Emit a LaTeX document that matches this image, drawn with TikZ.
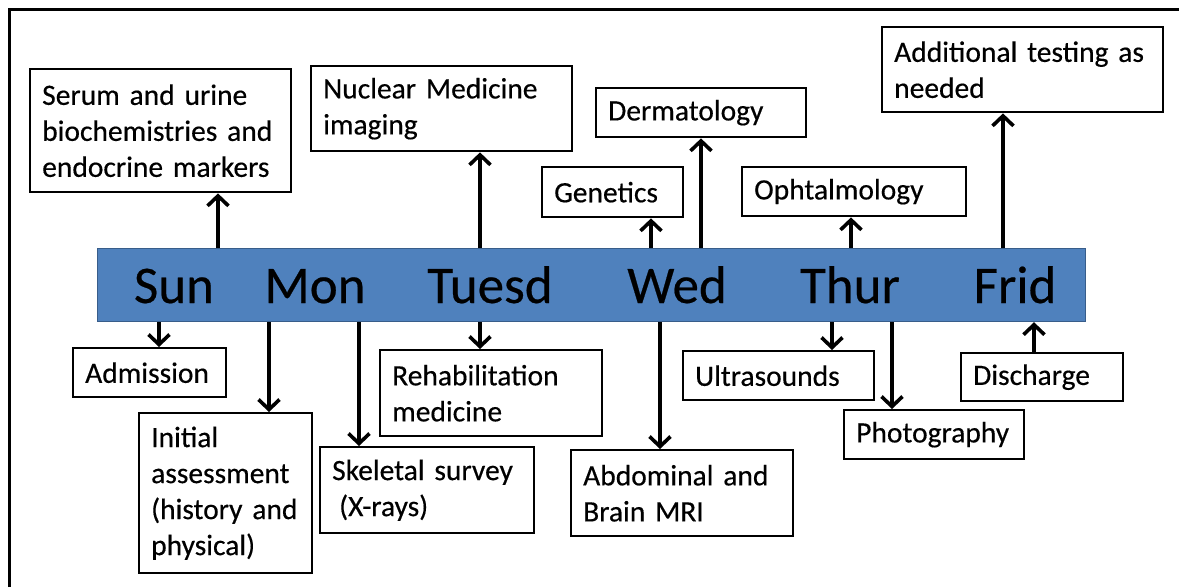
\documentclass[tikz,border=0pt]{standalone}
\usepackage{fontspec}
\setmainfont{Carlito}[WordSpace=0.6,FakeBold=0.4]
\usetikzlibrary{arrows.meta}
\definecolor{barblue}{RGB}{79,129,189}
\definecolor{barline}{RGB}{56,93,138}

\begin{document}
\begin{tikzpicture}[x=1pt,y=-1pt,>/.tip={Straight Barb[length=10pt,width=21pt]},
	box/.style={draw,line width=2.4pt,anchor=north west,inner xsep=12pt,inner ysep=0pt,align=left,font=\fontsize{29.5}{36}\selectfont},
	day/.style={anchor=base,font=\fontsize{53}{60}\selectfont},
	arr/.style={->,line width=3.6pt}]
	\useasboundingbox (0,0) rectangle (1179,587);
	\draw[line width=3pt] (9.5,587) -- (9.5,9) -- (1179,9);

	% the week
	\node (bar) [anchor=north west,fill=barblue,draw=barline,line width=1.2pt,minimum width=988pt,minimum height=73pt] at (97,248) {};
	\node (sun) [day] at (174,303) {Sun};
	\node (mon) [day] at (315,303) {Mon};
	\node (tue) [day] at (490,303) {Tuesd};
	\node (wed) [day] at (677,303) {Wed};
	\node (thu) [day] at (850,303) {Thur};
	\node (fri) [day] at (1015,303) {Frid};

	% above the bar
	\node (serum) [box,text width=237pt,minimum height=123pt] at (29,68) {Serum and urine\\biochemistries and\\endocrine markers};
	\node (nuclear) [box,text width=237pt,minimum height=85pt] at (310,65) {Nuclear Medicine\\imaging};
	\node (derm) [box,text width=186pt,minimum height=49pt] at (595,87) {Dermatology};
	\node (genetics) [box,text width=117pt,minimum height=50pt] at (541,166) {Genetics};
	\node (ophtal) [box,text width=200pt,minimum height=49pt] at (741,166) {Ophtalmology};
	\node (extra) [box,text width=257pt,minimum height=85pt] at (881,26) {Additional testing as\\needed};

	% below the bar
	\node (admission) [box,text width=129pt,minimum height=49pt] at (72,347) {Admission};
	\node (initial) [box,text width=149pt,minimum height=160pt] at (138,412) {Initial\\assessment\\(history and\\physical)};
	\node (rehab) [box,text width=198pt,minimum height=86pt] at (379,349) {Rehabilitation\\medicine};
	\node (skeletal) [box,text width=190pt,minimum height=86pt] at (319,446) {Skeletal survey\\\hspace*{7pt}(X-rays)};
	\node (mri) [box,text width=198pt,minimum height=86pt] at (570,449) {Abdominal and\\Brain MRI};
	\node (ultra) [box,text width=167pt,minimum height=49pt] at (682,350) {Ultrasounds};
	\node (photo) [box,text width=156pt,minimum height=49pt] at (843,409) {Photography};
	\node (discharge) [box,text width=138pt,minimum height=48pt] at (960,352) {Discharge};

	\draw[arr] (218,0 |- bar.north) -- (218,0 |- serum.south);
	\draw[arr] (480,0 |- bar.north) -- (480,0 |- nuclear.south);
	\draw[arr] (651,0 |- bar.north) -- (651,0 |- genetics.south);
	\draw[arr] (701,0 |- bar.north) -- (701,0 |- derm.south);
	\draw[arr] (851,0 |- bar.north) -- (851,0 |- ophtal.south);
	\draw[arr] (1003,0 |- bar.north) -- (1003,0 |- extra.south);

	\draw[arr] (159,0 |- bar.south) -- (159,0 |- admission.north);
	\draw[arr] (269,0 |- bar.south) -- (269,0 |- initial.north);
	\draw[arr] (359,0 |- bar.south) -- (359,0 |- skeletal.north);
	\draw[arr] (480,0 |- bar.south) -- (480,0 |- rehab.north);
	\draw[arr] (660,0 |- bar.south) -- (660,0 |- mri.north);
	\draw[arr] (832,0 |- bar.south) -- (832,0 |- ultra.north);
	\draw[arr] (892,0 |- bar.south) -- (892,0 |- photo.north);
	\draw[arr] (1034,0 |- discharge.north) -- (1034,0 |- bar.south);
\end{tikzpicture}
\end{document}
